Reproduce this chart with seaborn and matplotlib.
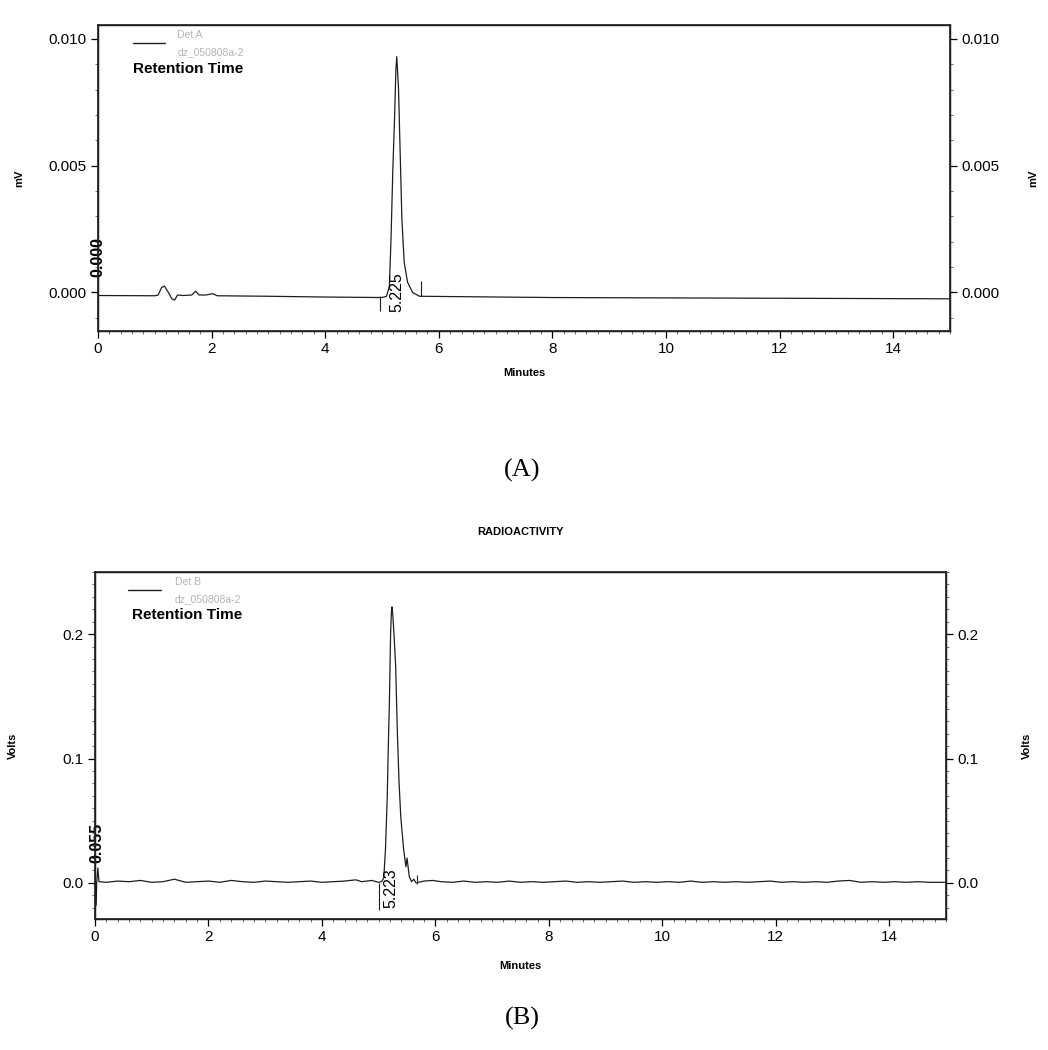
import matplotlib
matplotlib.use("Agg")
import matplotlib.pyplot as plt
import pandas as pd
import seaborn as sns
from matplotlib.ticker import MultipleLocator, FormatStrFormatter

# ---- panel A: UV detector (mV) ----
a_time = [0.0, 1.0, 1.06, 1.12, 1.17, 1.24, 1.30, 1.35, 1.40, 1.50, 1.65, 1.72,
          1.78, 1.90, 2.02, 2.10, 3.0, 4.0, 5.0, 5.08, 5.13, 5.16, 5.19, 5.22,
          5.245, 5.26, 5.29, 5.32, 5.35, 5.39, 5.45, 5.54, 5.66, 8.0, 15.0]
a_signal = [-0.00012, -0.00013, -0.0001, 0.0002, 0.00025, 0.0, -0.00025, -0.0003,
            -0.0001, -0.00012, -0.0001, 0.00005, -0.0001, -0.0001, -0.00005,
            -0.00013, -0.00015, -0.00018, -0.0002, -0.00015, 0.00025, 0.0022,
            0.0048, 0.0068, 0.0088, 0.0093, 0.0081, 0.0055, 0.0029, 0.0012,
            0.0004, 0.0, -0.00015, -0.0002, -0.00025]
a_peak_label = "5.225"
a_start_label = "0.000"

# ---- panel B: radioactivity detector (Volts) ----
b_time = [0.0, 0.02, 0.03, 0.05, 0.07, 0.2, 0.4, 0.6, 0.8, 1.0, 1.2, 1.4, 1.6,
          1.8, 2.0, 2.2, 2.4, 2.6, 2.8, 3.0, 3.2, 3.4, 3.6, 3.8, 4.0, 4.2, 4.4,
          4.6, 4.7, 4.88, 5.0, 5.05, 5.09, 5.12, 5.15, 5.17, 5.19, 5.21, 5.225,
          5.235, 5.25, 5.27, 5.30, 5.33, 5.36, 5.39, 5.44, 5.48, 5.50, 5.54,
          5.58, 5.62, 5.66, 5.8, 5.95, 6.1, 6.3, 6.5, 6.7, 6.9, 7.1, 7.3, 7.5,
          7.7, 7.9, 8.1, 8.3, 8.5, 8.7, 8.9, 9.1, 9.3, 9.5, 9.7, 9.9, 10.1,
          10.3, 10.5, 10.7, 10.9, 11.1, 11.3, 11.5, 11.7, 11.9, 12.1, 12.3,
          12.5, 12.7, 12.9, 13.1, 13.3, 13.5, 13.7, 13.9, 14.1, 14.3, 14.5,
          14.7, 14.9, 15.0]
b_signal = [0.0, -0.018, 0.0, 0.012, 0.001, 0.0005, 0.0015, 0.001, 0.002, 0.0005,
            0.001, 0.003, 0.0005, 0.001, 0.0015, 0.0005, 0.002, 0.001, 0.0005,
            0.0015, 0.001, 0.0005, 0.001, 0.0015, 0.0005, 0.001, 0.0015, 0.0025,
            0.001, 0.002, 0.0005, 0.001, 0.004, 0.027, 0.067, 0.110, 0.147,
            0.200, 0.218, 0.222, 0.215, 0.200, 0.174, 0.120, 0.080, 0.053,
            0.027, 0.013, 0.020, 0.005, 0.001, 0.003, 0.0, 0.0015, 0.002, 0.001,
            0.0005, 0.0015, 0.0005, 0.001, 0.0005, 0.0015, 0.0005, 0.001, 0.0005,
            0.001, 0.0015, 0.0005, 0.001, 0.0005, 0.001, 0.0015, 0.0005, 0.001,
            0.0005, 0.001, 0.0005, 0.0015, 0.0005, 0.001, 0.0005, 0.001, 0.0005,
            0.001, 0.0015, 0.0005, 0.001, 0.0005, 0.001, 0.0005, 0.0015, 0.002,
            0.0005, 0.001, 0.0005, 0.001, 0.0005, 0.001, 0.0005, 0.0005, 0.0005]
b_peak_label = "5.223"
b_start_label = "0.055"

df_a = pd.DataFrame({"Minutes": a_time, "signal": a_signal})
df_b = pd.DataFrame({"Minutes": b_time, "signal": b_signal})

sns.set_theme(style="white")
plt.rcParams["font.family"] = ["Liberation Sans", "DejaVu Sans"]
plt.rcParams["text.color"] = "black"
plt.rcParams["axes.labelcolor"] = "black"
plt.rcParams["xtick.color"] = "black"
plt.rcParams["ytick.color"] = "black"

TRACE = "#1e1e1e"
GREY = "#b4b4b4"

fig = plt.figure(figsize=(10.48, 10.5), dpi=100)
ax_a = fig.add_axes([98 / 1048, 1 - 331 / 1050, 852 / 1048, 306 / 1050])
ax_b = fig.add_axes([95 / 1048, 1 - 919 / 1050, 851 / 1048, 347 / 1050])


def style_axes(ax, ylim, ymajor, yminor, fmt, unit, label_x, right_x, label_y):
    ax.set_xlim(0, 15)
    ax.set_ylim(*ylim)
    ax.xaxis.set_major_locator(MultipleLocator(2))
    ax.xaxis.set_minor_locator(MultipleLocator(0.2))
    ax.yaxis.set_major_locator(MultipleLocator(ymajor))
    ax.yaxis.set_minor_locator(MultipleLocator(yminor))
    ax.yaxis.set_major_formatter(FormatStrFormatter(fmt))
    ax.tick_params(axis="both", which="major", direction="out", length=5,
                   width=0.9, color="black", labelsize=11, pad=3,
                   bottom=True, left=True)
    ax.tick_params(axis="both", which="minor", direction="out", length=2.5,
                   width=0.6, color="#555555", bottom=True, left=True)
    for s in ax.spines.values():
        s.set_color("black")
        s.set_linewidth(1.0)
    ax.set_xlabel("Minutes", fontsize=8, fontweight="bold")
    ax.xaxis.set_label_coords(0.5, -0.12)
    ax.set_ylabel(unit, fontsize=8, fontweight="bold")
    ax.yaxis.set_label_coords(label_x, label_y)

    twin = ax.twinx()
    twin.set_ylim(*ylim)
    twin.yaxis.set_major_locator(MultipleLocator(ymajor))
    twin.yaxis.set_minor_locator(MultipleLocator(yminor))
    twin.yaxis.set_major_formatter(FormatStrFormatter(fmt))
    twin.tick_params(axis="y", which="major", direction="out", length=5,
                     width=0.9, color="black", labelsize=11, pad=3, right=True)
    twin.tick_params(axis="y", which="minor", direction="out", length=2.5,
                     width=0.6, color="#555555", right=True)
    twin.set_ylabel(unit, fontsize=8, fontweight="bold", rotation=90)
    twin.yaxis.set_label_coords(right_x, label_y)
    twin.grid(False)
    ax.grid(False)


def legend_block(ax, det, ly, dy_det, dy_file, dy_rt, x0, x1, xt, xrt):
    ax.plot([x0, x1], [ly, ly], transform=ax.transAxes, color=TRACE, lw=1.0)
    ax.text(xt, dy_det, det, transform=ax.transAxes, color=GREY,
            fontsize=7.5, va="center", ha="left")
    ax.text(xt, dy_file, "dz_050808a-2", transform=ax.transAxes, color=GREY,
            fontsize=7.5, va="center", ha="left")
    ax.text(xrt, dy_rt, "Retention Time", transform=ax.transAxes,
            color="black", fontsize=11, fontweight="bold", va="center",
            ha="left")


# ---- panel A ----
sns.lineplot(data=df_a, x="Minutes", y="signal", ax=ax_a, color=TRACE,
             lw=0.9, estimator=None, sort=False)
style_axes(ax_a, (-0.00152, 0.01055), 0.005, 0.001, "%.3f", "mV",
           -0.087, 1.092, 0.50)
ax_a.vlines(4.96, -0.00074, -0.00015, color=TRACE, lw=0.8)
ax_a.vlines(5.69, -0.00015, 0.00044, color=TRACE, lw=0.8)
ax_a.text(5.27, 0.0, a_peak_label, rotation=90, ha="center", va="center",
          fontsize=11.5)
ax_a.text(0.0, 0.0006, a_start_label, rotation=90, ha="center",
          va="bottom", fontsize=11.5, fontweight="bold")
legend_block(ax_a, "Det A", 0.942, 0.967, 0.912, 0.857,
             0.041, 0.079, 0.093, 0.041)

# ---- panel B ----
sns.lineplot(data=df_b, x="Minutes", y="signal", ax=ax_b, color=TRACE,
             lw=0.9, estimator=None, sort=False)
style_axes(ax_b, (-0.029, 0.25), 0.1, 0.01, "%.1f", "Volts",
           -0.09, 1.089, 0.50)
ax_b.vlines(5.01, -0.022, 0.0, color=TRACE, lw=0.8)
ax_b.vlines(5.67, -0.001, 0.006, color=TRACE, lw=0.8)
ax_b.text(5.21, -0.004, b_peak_label, rotation=90, ha="center", va="center",
          fontsize=11.5)
ax_b.text(0.04, 0.016, b_start_label, rotation=90, ha="center",
          va="bottom", fontsize=11.5, fontweight="bold")
legend_block(ax_b, "Det B", 0.948, 0.972, 0.923, 0.876,
             0.039, 0.078, 0.094, 0.043)

# ---- figure-level text ----
fig.text(522 / 1048, 1 - 470 / 1050, "(A)", ha="center", va="center",
         fontsize=19, family=["Liberation Serif", "DejaVu Serif"])
fig.text(522 / 1048, 1 - 1018 / 1050, "(B)", ha="center", va="center",
         fontsize=19, family=["Liberation Serif", "DejaVu Serif"])
fig.text(520 / 1048, 1 - 532 / 1050, "RADIOACTIVITY", ha="center",
         va="center", fontsize=8, fontweight="bold")

fig.savefig("out.png", dpi=100)
plt.close(fig)
